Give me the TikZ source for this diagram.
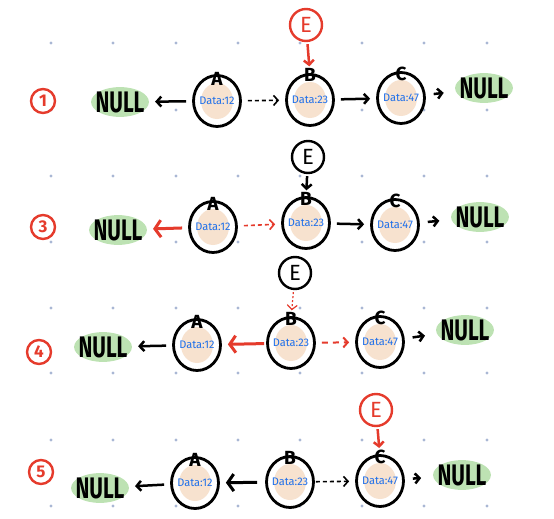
\documentclass[tikz,border=0pt]{standalone}
\usepackage{fontspec}
\usepackage{graphicx}
\setmainfont{Fira Sans}
\usetikzlibrary{arrows.meta, shapes.geometric, positioning}
\definecolor{penred}{HTML}{E53B2C}
\definecolor{peach}{HTML}{F7E2CF}
\definecolor{nullgreen}{HTML}{BDE2B3}
\definecolor{datablue}{HTML}{1E6FEA}
\definecolor{gridblue}{HTML}{A9B7D4}
\newcommand{\nulltext}{\scalebox{0.95}[1.35]{NULL}}

\begin{document}
\begin{tikzpicture}[x=1pt, y=-1pt,
  listnode/.style={ellipse, draw=black, line width=2.8pt, fill=white,
    minimum width=47pt, minimum height=51pt, inner xsep=-3pt, inner ysep=0pt,
    text=datablue, font=\fontsize{11}{11}\selectfont,
    path picture={\fill[peach] (path picture bounding box.center) ellipse (16pt and 18pt);}},
  tagletter/.style={font=\fontsize{19}{19}\selectfont\bfseries, inner sep=0pt},
  nullnode/.style={ellipse, fill=nullgreen, inner xsep=-4pt, inner ysep=0pt,
    font=\fontsize{22}{22}\selectfont\bfseries},
  enode/.style={circle, draw, line width=2.4pt, minimum size=32pt, inner sep=0pt,
    font=\fontsize{22}{22}\selectfont},
  stepmark/.style={circle, draw=penred, text=penred, line width=2.4pt,
    minimum size=24pt, inner sep=0pt, font=\fontsize{17}{17}\selectfont\bfseries},
  link/.style={line width=2.5pt, -{Straight Barb[length=4.5pt,width=10pt]},
    shorten >=6pt, shorten <=6pt},
  biglink/.style={line width=3pt, -{Straight Barb[length=6pt,width=17pt]},
    shorten >=6pt, shorten <=6pt},
  endlink/.style={link, shorten >=12pt, shorten <=8pt},
  dashlink/.style={link, line width=1.6pt, dash pattern=on 4pt off 3pt}
]
\useasboundingbox (0,0) rectangle (554,519);
\foreach \y in {43,110,176,242,308,373,440,506} {
  \foreach \x in {51,113,176,238,300,362,424,487} {
    \fill [gridblue] (\x,\y) circle (1.6pt);
  }
}

\node [stepmark] (s1) at (43,101) {1};
\node [nullnode] (nl1) at (120,102) {\nulltext};
\node [listnode] (a1) at (217,101) {Data:12};
\node [listnode] (b1) at (310,100) {Data:23};
\node [listnode] (c1) at (401,98) {Data:47};
\node [nullnode] (nr1) at (484,88) {\nulltext};
\node [tagletter] (la1) at ([yshift=-5pt]a1.north) {A};
\node [tagletter] (lb1) at ([yshift=-2pt]b1.north) {B};
\node [tagletter] (lc1) at ([yshift=-3pt]c1.north) {C};
\node [enode, draw=penred, text=penred] (e1) at (306,25) {E};
\draw [link] (a1) -- (nl1);
\draw [dashlink] (a1) -- (b1);
\draw [link] (b1) -- (c1);
\draw [endlink] (c1) -- (nr1);
\draw [link, penred, shorten <=2pt, shorten >=2pt] (e1) -- (lb1);

\node [stepmark] (s2) at (43,227) {3};
\node [nullnode] (nl2) at (118,230) {\nulltext};
\node [listnode] (a2) at (213,227) {Data:12};
\node [listnode] (b2) at (306,223) {Data:23};
\node [listnode] (c2) at (395,225) {Data:47};
\node [nullnode] (nr2) at (480,217) {\nulltext};
\node [tagletter] (la2) at ([yshift=-4pt]a2.north) {A};
\node [tagletter] (lb2) at ([yshift=-3pt]b2.north) {B};
\node [tagletter] (lc2) at ([yshift=-3pt]c2.north) {C};
\node [enode] (e2) at (308,157) {E};
\draw [biglink, penred] (a2) -- (nl2);
\draw [dashlink, penred] (a2) -- (b2);
\draw [link] (b2) -- (c2);
\draw [endlink] (c2) -- (nr2);
\draw [link, shorten <=2pt, shorten >=2pt] (e2) -- (lb2);

\node [stepmark] (s3) at (39,352) {4};
\node [nullnode] (nl3) at (103,347) {\nulltext};
\node [listnode] (a3) at (197,345) {Data:12};
\node [listnode] (b3) at (291,343) {Data:23};
\node [listnode] (c3) at (380,342) {Data:47};
\node [nullnode] (nr3) at (465,330) {\nulltext};
\node [tagletter] (la3) at ([yshift=-4pt]a3.north) {A};
\node [tagletter] (lb3) at ([yshift=-3pt]b3.north) {B};
\node [tagletter] (lc3) at ([yshift=-3pt]c3.north) {C};
\node [enode] (e3) at (295,273) {E};
\draw [link] (a3) -- (nl3);
\draw [biglink, penred, shorten <=2pt] (b3) -- (a3);
\draw [dashlink, penred, line width=2pt, dash pattern=on 6pt off 5pt] (b3) -- (c3);
\draw [endlink] (c3) -- (nr3);
\draw [link, penred, line width=1.2pt, dash pattern=on 2pt off 2pt,
  shorten <=2pt, shorten >=2pt] (e3) -- (lb3);

\node [stepmark] (s4) at (41,472) {5};
\node [nullnode] (nl4) at (100,488) {\nulltext};
\node [listnode] (a4) at (195,483) {Data:12};
\node [listnode] (b4) at (290,482) {Data:23};
\node [listnode] (c4) at (380,481) {Data:47};
\node [nullnode] (nr4) at (462,475) {\nulltext};
\node [tagletter] (la4) at ([yshift=-4pt]a4.north) {A};
\node [tagletter] (lb4) at ([yshift=-3pt]b4.north) {B};
\node [tagletter] (lc4) at ([yshift=-3pt]c4.north) {C};
\node [enode, draw=penred, text=penred] (e4) at (376,410) {E};
\draw [link] (a4) -- (nl4);
\draw [biglink, shorten <=8pt] (b4) -- (a4);
\draw [dashlink, shorten <=1pt] (b4) -- (c4);
\draw [endlink] (c4) -- (nr4);
\draw [link, penred, shorten <=2pt, shorten >=2pt] (e4) -- (lc4);
\end{tikzpicture}
\end{document}
